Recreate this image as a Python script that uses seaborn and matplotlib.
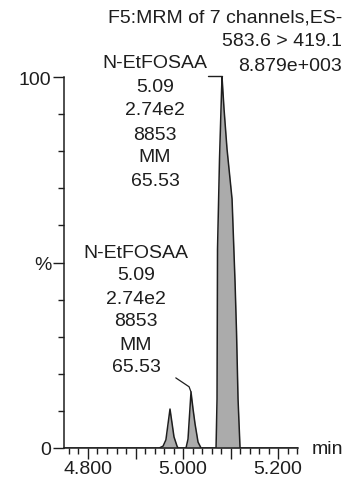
import numpy as np
import pandas as pd
import seaborn as sns
import matplotlib.pyplot as plt
from matplotlib.ticker import MultipleLocator

sns.set_style('ticks')
plt.rcParams['font.family'] = ['Liberation Sans', 'DejaVu Sans']

# chromatogram values (time in min, intensity in %)
peak1_time = [4.950, 4.958, 4.964, 4.9726, 4.981, 4.9874, 4.9895]
peak1_pct = [0, 0.5, 2.2, 10.5, 3.0, 0.5, 0]
peak2_time = [5.0063, 5.0105, 5.0168, 5.0211, 5.0253, 5.0316, 5.0379]
peak2_pct = [0, 2.4, 15.1, 10.5, 6.5, 1.6, 0]
peak3_time = [5.0695, 5.0716, 5.0726, 5.0768, 5.0811, 5.0821, 5.0863,
              5.0926, 5.1032, 5.1095, 5.1126, 5.1158, 5.1200]
peak3_pct = [0, 13.2, 53.6, 77.9, 96.2, 100, 91.4, 80.6, 67.1, 44.7, 31.3, 13.2, 0]
scan_range = [4.7495, 5.242]

header_lines = ['F5:MRM of 7 channels,ES-', '583.6 > 419.1', '8.879e+003']
peak_label = ['N-EtFOSAA', '5.09', '2.74e2', '8853', 'MM', '65.53']
xtick_vals = [4.8, 4.9, 5.0, 5.1, 5.2]
xtick_labels = ['4.800', '', '5.000', '', '5.200']
ytick_vals = [0, 50, 100]
ytick_labels = ['0', '%', '100']

peaks = [(peak1_time, peak1_pct), (peak2_time, peak2_pct), (peak3_time, peak3_pct)]
trace = pd.DataFrame({
    'time': [scan_range[0]] + peak1_time + peak2_time + peak3_time + [scan_range[1]],
    'pct': [0] + peak1_pct + peak2_pct + peak3_pct + [0],
})

W, H = 344, 485
def px(x, y):
    return x / W, 1 - y / H

ink = '#1e1e1e'
fig = plt.figure(figsize=(W / 100, H / 100), dpi=100)
ax = fig.add_axes([64 / W, 1 - 449 / H, (298 - 64) / W, (449 - 78) / H])

for t, p in peaks:
    ax.fill_between(t, p, 0, color='#ababab', lw=0, zorder=1)
sns.lineplot(data=trace, x='time', y='pct', ax=ax, color=ink, lw=1.1,
             sort=False, estimator=None, zorder=2)

# label leader lines
apex_t = peak3_time[int(np.argmax(peak3_pct))]
ax.plot([apex_t - 0.03, apex_t], [100.3, 100.3], color=ink, lw=1.0, clip_on=False)
a2 = int(np.argmax(peak2_pct))
ax.plot([peak2_time[a2], peak2_time[a2] - 0.004, peak2_time[a2] - 0.032],
        [peak2_pct[a2], peak2_pct[a2] + 1.4, peak2_pct[a2] + 3.8], color=ink, lw=0.9)

ax.set_xlim(scan_range)
ax.set_ylim(0, 100)
ax.set_xticks(xtick_vals)
ax.set_xticklabels(xtick_labels)
ax.set_yticks(ytick_vals)
ax.set_yticklabels(ytick_labels)
ax.xaxis.set_minor_locator(MultipleLocator(0.02))
ax.yaxis.set_minor_locator(MultipleLocator(10))
ax.set_xlabel('')
ax.set_ylabel('')
sns.despine(ax=ax)
for s in ['left', 'bottom']:
    ax.spines[s].set_color(ink)
    ax.spines[s].set_linewidth(1.1)
ax.tick_params(which='major', length=8, width=1, color=ink, labelcolor=ink, labelsize=14, pad=1)
ax.tick_params(which='minor', length=4.3, width=1, color=ink)

fs = 14
for i, s in enumerate(header_lines):
    fig.text(*px(342, [18, 42, 67][i]), s, ha='right', va='center', fontsize=fs, color=ink)
for i, s in enumerate(peak_label):
    fig.text(*px(155, [64, 88, 111, 135, 158, 181][i]), s, ha='center', va='center', fontsize=fs, color=ink)
    fig.text(*px(136, [253, 276, 299, 322, 345, 368][i]), s, ha='center', va='center', fontsize=fs, color=ink)
fig.text(*px(312, 450), 'min', ha='left', va='center', fontsize=fs, color=ink)

fig.savefig('out.png', dpi=100)
